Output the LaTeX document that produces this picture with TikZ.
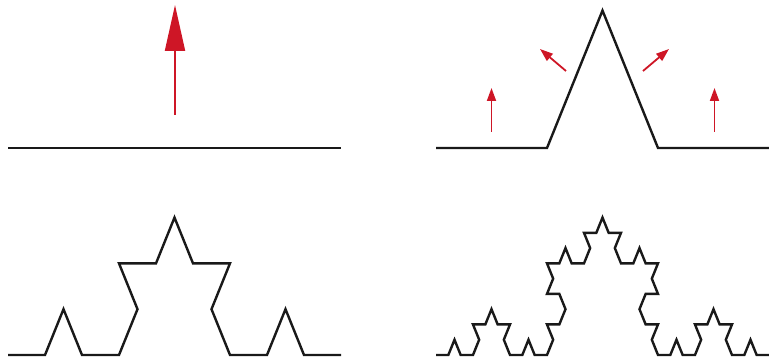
\documentclass[tikz,border=0pt]{standalone}
\usetikzlibrary{arrows.meta}
\definecolor{kred}{RGB}{206,22,38}
\definecolor{kline}{RGB}{25,25,25}
\tikzset{
  curve/.style={draw=kline, line width=2.4pt},
  bigarrow/.style={draw=kred, line width=2pt, -{Triangle[length=46pt,width=20pt]}},
  smallarrow/.style={draw=kred, line width=1.8pt, -{Triangle[length=13pt,width=9pt]}},
  stretch/.style={yscale=1.43}
}
\begin{document}
\begin{tikzpicture}[x=1pt,y=1pt]
\useasboundingbox (0,0) rectangle (769,363);

% order 0: straight segment with the growth arrow
\draw[curve] (8,215) -- (341,215);
\draw[bigarrow] (175,248) -- (175,358);

% order 1
\begin{scope}[shift={(436,215)}, stretch]
  \draw[curve] (0,0) \foreach \a in {0,60,-60,0} { -- ++(\a:111) };
\end{scope}
\draw[smallarrow] (491.5,231) -- (491.5,275);
\draw[smallarrow] (714.5,231) -- (714.5,275);
\draw[smallarrow] (566,292) -- (540,314);
\draw[smallarrow] (643,292) -- (669,314);

% order 2
\begin{scope}[shift={(8,8)}, stretch]
  \draw[curve] (0,0) \foreach \a in {0,60,-60,0} {
      \foreach \b in {0,60,-60,0} { -- ++(\a+\b:37) } };
\end{scope}

% order 3
\begin{scope}[shift={(436,8)}, stretch]
  \draw[curve] (0,0) \foreach \a in {0,60,-60,0} {
      \foreach \b in {0,60,-60,0} {
        \foreach \c in {0,60,-60,0} { -- ++(\a+\b+\c:12.333) } } };
\end{scope}
\end{tikzpicture}
\end{document}
